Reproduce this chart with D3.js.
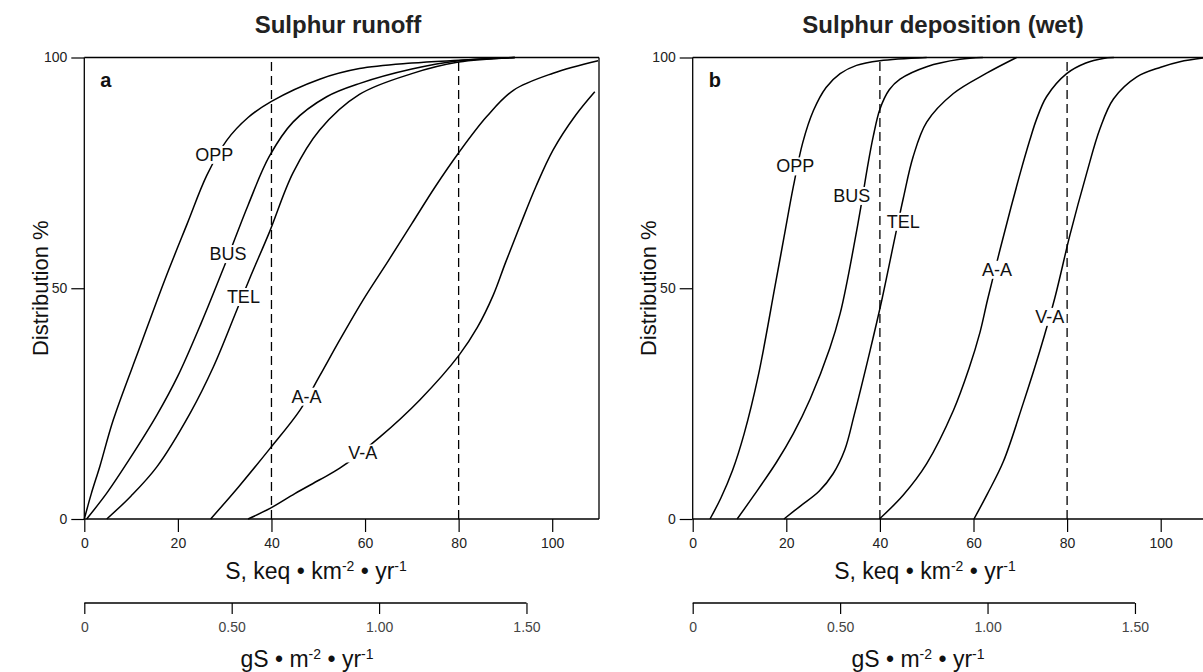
<!DOCTYPE html>
<html>
<head>
<meta charset="utf-8">
<script src="https://cdn.jsdelivr.net/npm/d3@7"></script>
<style>
  html, body { margin: 0; padding: 0; background: #fff; }
  svg { display: block; font-family: "Liberation Sans", Arial, Helvetica, sans-serif; }
</style>
</head>
<body>
<svg id="chart" width="1203" height="672"></svg>
<script>
// ---------------- DATA ----------------
const panelTitles = ["Sulphur runoff", "Sulphur deposition (wet)"];
const panelLetters = ["a", "b"];
const seriesNames = ["OPP", "BUS", "TEL", "A-A", "V-A"];
const xTicks = [0, 20, 40, 60, 80, 100];
const yTicks = [0, 50, 100];
const secTicks = [0, 0.5, 1.0, 1.5];
const secTickLabels = ["0", "0.50", "1.00", "1.50"];
const dashedAt = [40, 80];
const keqPerGS = 63; // conversion gS/m2/yr -> keq/km2/yr as drawn

// Panel a: Sulphur runoff — [S keq, distribution %]
const runoffOPP = [[0,0],[1.5,5.5],[3.35,11.5],[6.2,21.5],[11.9,37.3],[17.2,51.8],[22,64],[26.2,74.5],[30.4,82],[35,87],[40,90.5],[50.3,95.3],[58.8,97.6],[70,98.8],[80,99.4],[92,100]];
const runoffBUS = [[0.5,0],[4.8,5.6],[10,13.5],[15.5,22.5],[20,31],[25,42.5],[30,55],[35,68],[39.5,78.5],[44.6,86],[51.8,91.5],[58.9,94.4],[70,97.5],[80,99.3],[92,100]];
const runoffTEL = [[4.8,0],[10,5],[15.5,11.3],[22.6,22.9],[27.6,33],[32.6,45.3],[35.5,52.5],[39.5,62],[44.6,75],[50.3,84.3],[58.8,92],[70,96.5],[80,99],[92,100]];
const runoffAA = [[27,0],[33,7],[39.7,15.3],[46.1,23.6],[50.3,31],[54.6,38.8],[59.6,47.5],[65,56],[70,64],[75,72],[79.9,79.2],[86,87.2],[91.7,92.9],[100.2,96.6],[109.8,99.3]];
const runoffVA = [[35,0],[39.7,2.3],[45,5.5],[50.3,8.5],[54.6,11],[63.2,17.8],[71.7,25.8],[80.1,35.5],[84,41.5],[87.4,48.5],[90,55.5],[93.1,63.5],[96.5,72],[100.2,80],[105,87.5],[109.1,92.6]];

// Panel b: Sulphur deposition (wet)
const depOPP = [[3.7,0],[6,4.5],[8.5,10.5],[11,18.5],[14,31],[17.6,50.5],[19.5,61],[21.5,72],[23.5,81.5],[25.8,88.5],[28.5,93.5],[31.5,96.5],[35,98.3],[40,99.3],[50,100]];
const depBUS = [[9.5,0],[13,5],[17.9,12.3],[21.5,18.5],[25.1,26],[29.3,37],[31.5,44.5],[33,51.5],[34.5,59.5],[36,68],[37.3,76],[38.6,83],[40,88.8],[42,93],[44.3,95.3],[50,98],[57.1,99.6],[62,100]];
const depTEL = [[19.5,0],[23,2.8],[27,6],[30,9.8],[32.5,15],[34.5,22.5],[37.9,36.5],[40.4,47.4],[42.9,59.5],[45,69.5],[47.1,78.5],[50,86],[55.7,92.2],[62.8,96.6],[69.2,100]];
const depAA = [[39.9,0],[45,5.2],[50,12],[55.7,23.5],[59,32.5],[61.4,40.5],[63,47.5],[65.7,58.5],[68,67.5],[70,75],[72,82],[73.5,86.7],[75.6,91.5],[79.9,96.5],[84,98.8],[87.7,99.8],[90,100]];
const depVA = [[60.1,0],[63,5.5],[66.4,12.5],[70.6,25],[74.2,36.5],[77.4,48],[80.6,61.5],[84.2,75],[87,84.5],[89.9,91],[94.9,95.8],[100,97.9],[104.1,99.1],[110,100]];

// label anchor points (data units) for each series
const runoffLabelAt = [[27.8,78.9],[30.7,57.4],[34,48.1],[47.5,26.5],[59.5,14.2]];
const depLabelAt = [[21.9,76.4],[34,70],[45,64.4],[65,54],[76.3,43.8]];

// ---------------- DRAW ----------------
const svg = d3.select("#chart");
const FONT = '"Liberation Sans", Arial, Helvetica, sans-serif';

const panels = [
  { title: panelTitles[0], letter: panelLetters[0], series: [runoffOPP, runoffBUS, runoffTEL, runoffAA, runoffVA], labels: runoffLabelAt,
    x0: 84.3, x1: 599, titleX: 338, xlabX: 316, secLabX: 307, ylabX: 40, rightBorder: true },
  { title: panelTitles[1], letter: panelLetters[1], series: [depOPP, depBUS, depTEL, depAA, depVA], labels: depLabelAt,
    x0: 692.7, x1: 1207.5, titleX: 943, xlabX: 925, secLabX: 918, ylabX: 648, rightBorder: false }
];

const y = d3.scaleLinear().domain([0, 100]).range([519, 57.5]);

panels.forEach(p => {
  const x = d3.scaleLinear().domain([0, 110]).range([p.x0, p.x1]);
  const g = svg.append("g");

  // title
  g.append("text").attr("x", p.titleX).attr("y", 33).attr("text-anchor", "middle")
    .attr("font-size", 24).attr("font-weight", "bold").attr("fill", "#222").text(p.title);

  // x axis
  const xAxis = d3.axisBottom(x).tickValues(xTicks).tickSize(13).tickSizeOuter(0).tickPadding(6);
  const gx = g.append("g").attr("transform", `translate(0,${y(0)})`).call(xAxis);
  gx.select(".domain").remove();
  gx.append("line").attr("x1", x(0)).attr("x2", x(110)).attr("stroke", "#000").attr("stroke-width", 1.3);
  gx.selectAll(".tick line").attr("stroke", "#000").attr("stroke-width", 1.2);
  gx.selectAll(".tick text").attr("font-size", 14).attr("font-family", FONT).attr("fill", "#222");

  // y axis
  const yAxis = d3.axisLeft(y).tickValues(yTicks).tickSize(13).tickSizeOuter(0).tickPadding(4);
  const gy = g.append("g").attr("transform", `translate(${x(0)},0)`).call(yAxis);
  gy.select(".domain").remove();
  gy.append("line").attr("y1", y(0)).attr("y2", y(100)).attr("stroke", "#000").attr("stroke-width", 1.3);
  gy.selectAll(".tick line").attr("stroke", "#000").attr("stroke-width", 1.2);
  gy.selectAll(".tick text").attr("font-size", 14).attr("font-family", FONT).attr("fill", "#222");

  // top border + right border
  g.append("line").attr("x1", x(0)).attr("x2", x(110)).attr("y1", y(100)).attr("y2", y(100))
    .attr("stroke", "#000").attr("stroke-width", 1.3);
  if (p.rightBorder) {
    g.append("line").attr("x1", x(110)).attr("x2", x(110)).attr("y1", y(0)).attr("y2", y(100))
      .attr("stroke", "#000").attr("stroke-width", 1.3);
  }

  // letter
  g.append("text").attr("x", x(0) + 16).attr("y", y(100) + 29).attr("font-size", 20)
    .attr("font-weight", "bold").attr("fill", "#111").text(p.letter);

  // dashed verticals
  dashedAt.forEach(v => {
    g.append("line").attr("x1", x(v)).attr("x2", x(v)).attr("y1", y(0)).attr("y2", y(100))
      .attr("stroke", "#000").attr("stroke-width", 1.3).attr("stroke-dasharray", "9,5");
  });

  // curves
  const line = d3.line().x(d => x(d[0])).y(d => y(d[1])).curve(d3.curveCatmullRom.alpha(0.5));
  p.series.forEach(s => {
    g.append("path").attr("d", line(s)).attr("fill", "none").attr("stroke", "#000").attr("stroke-width", 1.5);
  });

  // curve labels with white backgrounds
  p.labels.forEach((pt, i) => {
    const t = g.append("text").attr("x", x(pt[0])).attr("y", y(pt[1])).attr("text-anchor", "middle")
      .attr("dominant-baseline", "central").attr("font-size", 18).attr("fill", "#111").text(seriesNames[i]);
    const bb = t.node().getBBox();
    g.insert("rect", () => t.node()).attr("x", bb.x - 2).attr("y", bb.y + 1).attr("width", bb.width + 4)
      .attr("height", bb.height - 2).attr("fill", "#fff");
  });

  // y label
  g.append("text").attr("transform", `translate(${p.ylabX},${y(50)}) rotate(-90)`).attr("text-anchor", "middle")
    .attr("dominant-baseline", "central").attr("font-size", 22).attr("fill", "#111").text("Distribution %");

  // x label
  const xl = g.append("text").attr("x", p.xlabX).attr("y", 579).attr("text-anchor", "middle")
    .attr("font-size", 23).attr("fill", "#111");
  xl.append("tspan").text("S, keq \u2022 km");
  xl.append("tspan").attr("dy", -8).attr("font-size", 14).text("-2");
  xl.append("tspan").attr("dy", 8).text(" \u2022 yr");
  xl.append("tspan").attr("dy", -8).attr("font-size", 14).text("-1");

  // secondary axis (gS m-2 yr-1)
  const xs = d3.scaleLinear().domain([0, 110 / keqPerGS]).range([p.x0, p.x1]);
  const sAxis = d3.axisBottom(xs).tickValues(secTicks).tickFormat((d, i) => secTickLabels[i]).tickSize(11).tickSizeOuter(0).tickPadding(8);
  const gs = g.append("g").attr("transform", "translate(0,603)").call(sAxis);
  gs.select(".domain").remove();
  gs.append("line").attr("x1", xs(0)).attr("x2", xs(1.5)).attr("stroke", "#000").attr("stroke-width", 1.3);
  gs.selectAll(".tick line").attr("stroke", "#000").attr("stroke-width", 1.2);
  gs.selectAll(".tick text").attr("font-size", 14).attr("font-family", FONT).attr("fill", "#444");

  const sl = g.append("text").attr("x", p.secLabX).attr("y", 667).attr("text-anchor", "middle")
    .attr("font-size", 23).attr("fill", "#111");
  sl.append("tspan").text("gS \u2022 m");
  sl.append("tspan").attr("dy", -8).attr("font-size", 14).text("-2");
  sl.append("tspan").attr("dy", 8).text(" \u2022  yr");
  sl.append("tspan").attr("dy", -8).attr("font-size", 14).text("-1");
});
</script>
</body>
</html>
